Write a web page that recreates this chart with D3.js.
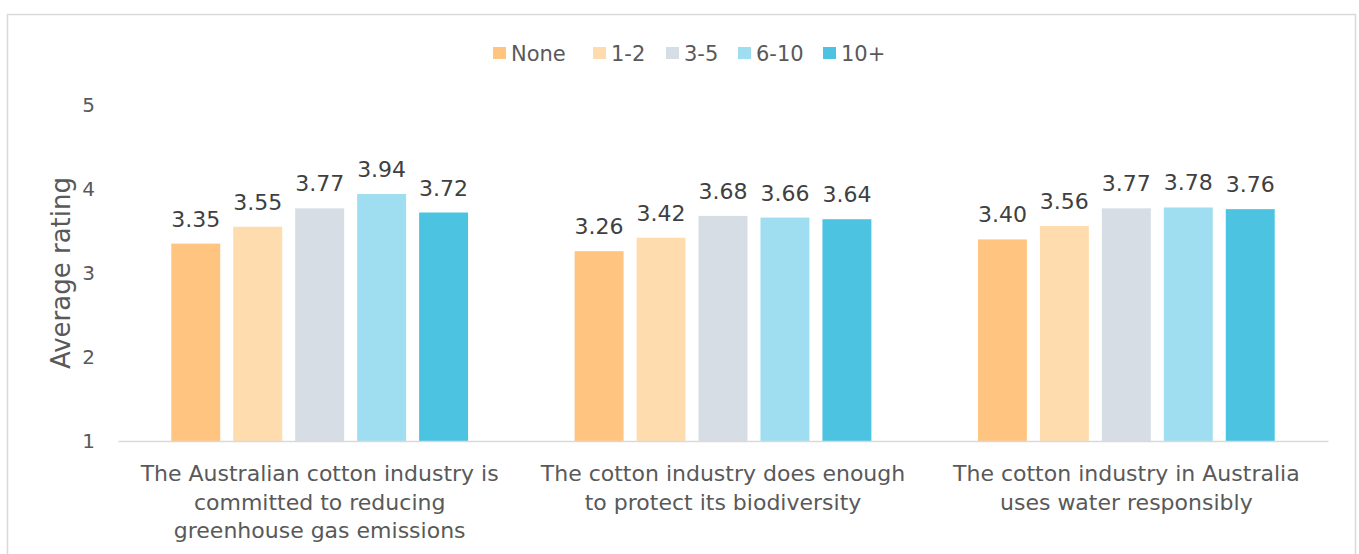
<!DOCTYPE html>
<html>
<head>
<meta charset="utf-8">
<script src="https://cdn.jsdelivr.net/npm/d3@7"></script>
<style>
  html, body { margin: 0; padding: 0; background: #ffffff; }
  svg { display: block; }
  text { font-family: "DejaVu Sans", sans-serif; }
</style>
</head>
<body>
<svg id="chart" width="1359" height="554"></svg>
<script>
// Survey statements (x-axis categories), each split into display lines
const categories = [
  "The Australian cotton industry is committed to reducing greenhouse gas emissions",
  "The cotton industry does enough to protect its biodiversity",
  "The cotton industry in Australia uses water responsibly"
];
const categoryLines = [
  ["The Australian cotton industry is", "committed to reducing", "greenhouse gas emissions"],
  ["The cotton industry does enough", "to protect its biodiversity"],
  ["The cotton industry in Australia", "uses water responsibly"]
];

// Series: years of experience groups
const seriesNames = ["None", "1-2", "3-5", "6-10", "10+"];
const seriesColors = ["#FFC580", "#FFDCAD", "#D6DDE4", "#9EDEF0", "#4CC3E0"];

// Average rating per series, one value per category
const valuesNone = [3.35, 3.26, 3.40];
const values1to2 = [3.55, 3.42, 3.56];
const values3to5 = [3.77, 3.68, 3.77];
const values6to10 = [3.94, 3.66, 3.78];
const values10plus = [3.72, 3.64, 3.76];
const seriesValues = [valuesNone, values1to2, values3to5, values6to10, values10plus];

const yTicks = [1, 2, 3, 4, 5];
const yTitle = "Average rating";

const svg = d3.select("#chart");

// Outer chart frame
svg.append("rect")
  .attr("x", 7.5).attr("y", 14.5)
  .attr("width", 1348).attr("height", 560)
  .attr("fill", "#ffffff")
  .attr("stroke", "#D9D9D9").attr("stroke-width", 1.5);

const plot = { left: 118, right: 1328, top: 105, bottom: 441 };

const y = d3.scaleLinear().domain([1, 5]).range([plot.bottom, plot.top]);
const x0 = d3.scaleBand().domain(categories).range([plot.left, plot.right]).padding(0);
const x1 = d3.scaleBand().domain(seriesNames)
  .range([0, x0.bandwidth()])
  .paddingInner(0.21)
  .paddingOuter(0.86);

// Y axis tick labels (no axis line, no gridlines)
const yAxis = d3.axisLeft(y).tickValues(yTicks).tickSize(0).tickPadding(0).tickFormat(d3.format("d"));
const yg = svg.append("g").attr("transform", `translate(${plot.left - 23},0)`).call(yAxis);
yg.select(".domain").remove();
yg.selectAll("text")
  .style("font-family", "'DejaVu Sans', sans-serif")
  .style("font-size", "20px")
  .attr("fill", "#595959");

// Y axis title
svg.append("text")
  .attr("transform", `translate(70,${(plot.top + plot.bottom) / 2}) rotate(-90)`)
  .attr("text-anchor", "middle")
  .attr("font-size", "26px")
  .attr("fill", "#595959")
  .text(yTitle);

// Bars
const groups = svg.append("g").selectAll("g")
  .data(categories)
  .join("g")
  .attr("transform", d => `translate(${x0(d)},0)`);

groups.selectAll("rect")
  .data((d, i) => seriesNames.map((s, j) => ({ s, v: seriesValues[j][i], color: seriesColors[j] })))
  .join("rect")
  .attr("x", d => x1(d.s))
  .attr("y", d => y(d.v))
  .attr("width", x1.bandwidth())
  .attr("height", d => y(1) - y(d.v))
  .attr("fill", d => d.color);

// Value labels
groups.selectAll("text.val")
  .data((d, i) => seriesNames.map((s, j) => ({ s, v: seriesValues[j][i] })))
  .join("text")
  .attr("class", "val")
  .attr("x", d => x1(d.s) + x1.bandwidth() / 2)
  .attr("y", d => y(d.v) - 17)
  .attr("text-anchor", "middle")
  .attr("font-size", "22px")
  .attr("fill", "#404040")
  .text(d => d.v.toFixed(2));

// X axis baseline
const xAxis = d3.axisBottom(x0).tickSize(0).tickFormat("");
const xg = svg.append("g").attr("transform", `translate(0,${plot.bottom})`).call(xAxis);
xg.select(".domain").attr("stroke", "#D9D9D9").attr("stroke-width", 1.5);

// Category labels
categories.forEach((c, i) => {
  const cx = x0(c) + x0.bandwidth() / 2;
  const t = svg.append("text")
    .attr("x", cx)
    .attr("y", 481)
    .attr("text-anchor", "middle")
    .attr("font-size", "22px")
    .attr("fill", "#595959");
  categoryLines[i].forEach((line, k) => {
    t.append("tspan")
      .attr("x", cx)
      .attr("dy", k === 0 ? 0 : 28.5)
      .text(line);
  });
});

// Legend
const legend = svg.append("g");
const legendX = [493, 593, 666, 738, 823];
seriesNames.forEach((s, i) => {
  legend.append("rect")
    .attr("x", legendX[i]).attr("y", 47)
    .attr("width", 13).attr("height", 12)
    .attr("fill", seriesColors[i]);
  legend.append("text")
    .attr("x", legendX[i] + 18).attr("y", 61)
    .attr("font-size", "21px")
    .attr("fill", "#595959")
    .text(s);
});
</script>
</body>
</html>
